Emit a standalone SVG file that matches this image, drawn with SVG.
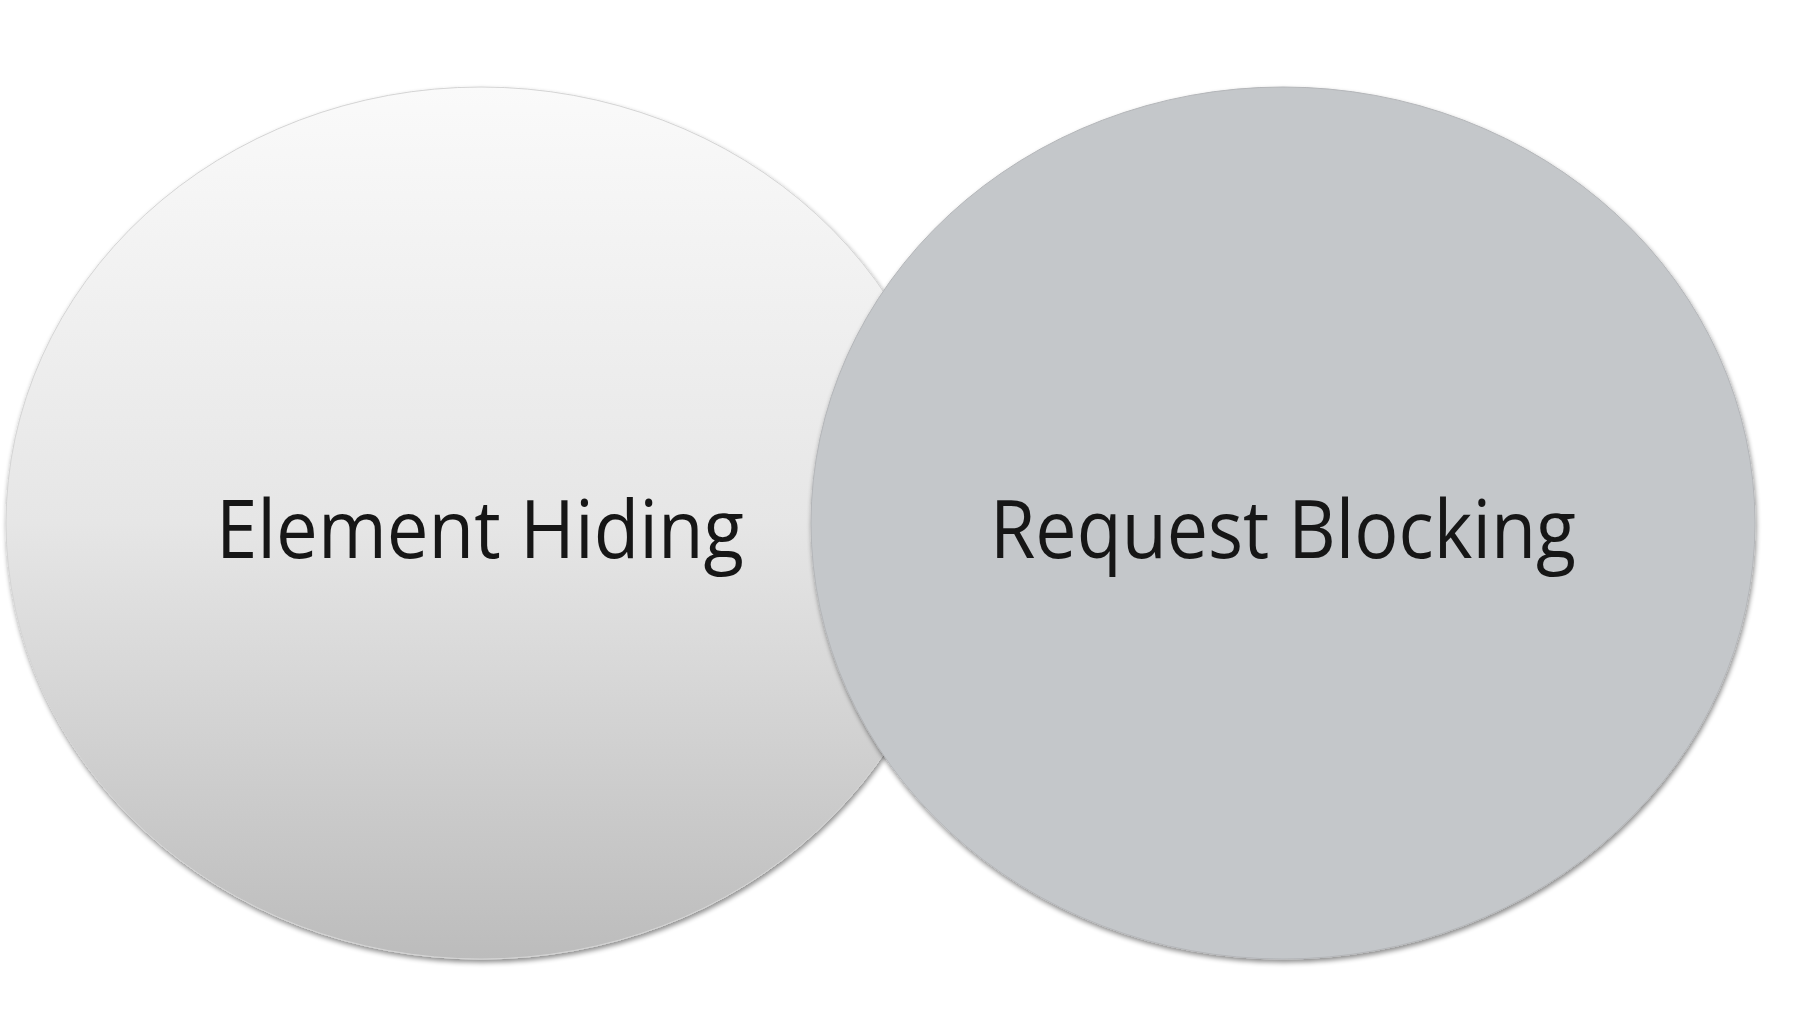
<svg xmlns="http://www.w3.org/2000/svg" width="1800" height="1022" viewBox="0 0 1800 1022">
  <defs>
    <linearGradient id="gradLeft" x1="0" y1="0" x2="0" y2="1">
      <stop offset="0" stop-color="#fafafa"/>
      <stop offset="0.5" stop-color="#e6e6e6"/>
      <stop offset="1" stop-color="#bcbcbc"/>
    </linearGradient>
    <filter id="shadow" x="-5%" y="-5%" width="110%" height="110%">
      <feGaussianBlur in="SourceAlpha" stdDeviation="2.5"/>
      <feOffset dx="1" dy="3" result="b"/>
      <feComponentTransfer><feFuncA type="linear" slope="0.45"/></feComponentTransfer>
      <feMerge><feMergeNode/><feMergeNode in="SourceGraphic"/></feMerge>
    </filter>
  </defs>
  <style>
    .node { filter: url(#shadow); }
    .label { font-family: "Open Sans", "Noto Sans", "Liberation Sans", sans-serif; font-size: 80px; fill: #161616; text-anchor: middle; }
  </style>
  <rect width="1800" height="1022" fill="#ffffff"/>
  <g id="connectors"></g>
  <g id="node-element-hiding">
    <ellipse class="node" cx="481" cy="523" rx="475" ry="436" fill="url(#gradLeft)" stroke="#d4d4d4" stroke-width="1"/>
    <text class="label" x="480" y="558" textLength="528" lengthAdjust="spacingAndGlyphs">Element Hiding</text>
  </g>
  <g id="node-request-blocking">
    <ellipse class="node" cx="1283" cy="523" rx="472" ry="436" fill="#c4c7ca" stroke="#b4b6b9" stroke-width="1"/>
    <text class="label" x="1283" y="558" textLength="586" lengthAdjust="spacingAndGlyphs">Request Blocking</text>
  </g>
</svg>
